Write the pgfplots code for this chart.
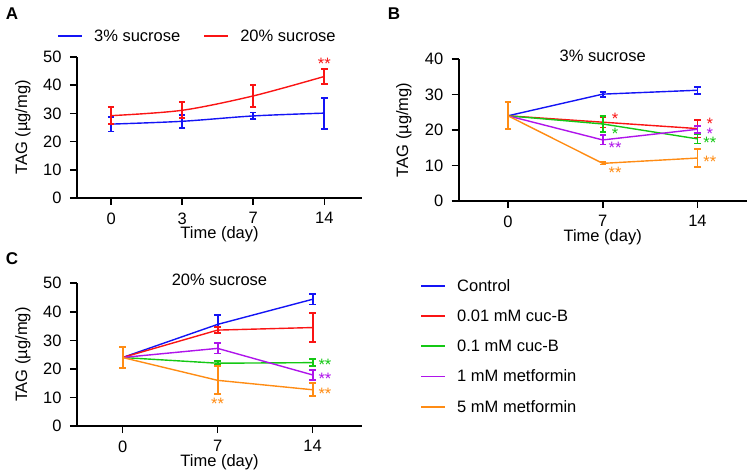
\documentclass[border=0pt]{standalone}
\usepackage{pgfplots}
\pgfplotsset{compat=1.18}
\usepackage{fontspec}
\setmainfont{Liberation Sans}
\definecolor{cblue}{RGB}{20,20,245}
\definecolor{cred}{RGB}{250,20,20}
\definecolor{cgreen}{RGB}{20,200,20}
\definecolor{cpurple}{RGB}{175,20,235}
\definecolor{corange}{RGB}{255,140,20}
\newcommand{\fs}{\fontsize{16.5bp}{19bp}\selectfont}
\tikzset{sig/.style={font=\fs, inner sep=0pt, anchor=center, yshift=-3.5bp}}
\pgfplotsset{
  base/.style={
    scale only axis,
    axis x line*=bottom, axis y line*=left,
    x axis line style={-, line width=1.6bp},
    y axis line style={-, line width=1.6bp},
    tick style={line width=1.6bp, black},
    tick align=outside,
    major tick length=7bp,
    font=\fs,
    /pgf/number format/assume math mode=true,
    xticklabel style={yshift=-4bp},
    yticklabel style={xshift=-5bp},
    ymin=0,
    xlabel={Time (day)}, ylabel={TAG (µg/mg)},
    every axis x label/.style={at={(axis description cs:0.5,0)}, anchor=center, yshift=-36bp},
    legend image code/.code={\fill[draw=none] (0bp,-0.7bp) rectangle (24bp,0.7bp);},
  },
  ln/.style={line width=1.4bp, mark=none},
  eb/.style={mark=none, draw=none,
    error bars/.cd, y dir=both, y explicit,
    error bar style={line width=1.8bp, draw=#1},
    error mark options={rotate=90, mark size=3.2bp, line width=1.8bp, draw=#1}},
}
\begin{document}
\begin{tikzpicture}
\useasboundingbox (0,0) rectangle (753bp,472bp);
\node[font=\bfseries\fontsize{17bp}{20bp}\selectfont] at (12bp,458bp) {A};
\node[font=\bfseries\fontsize{17bp}{20bp}\selectfont] at (394bp,458bp) {B};
\node[font=\bfseries\fontsize{17bp}{20bp}\selectfont] at (12bp,213bp) {C};
% ---------------- Panel A
\begin{axis}[base, at={(77bp,274bp)}, anchor=south west, width=285bp, height=141bp,
  xmin=-0.48, xmax=3.53, ymax=50, xtick={0,1,2,3}, xticklabels={0,3,7,14},
  ytick={0,10,...,50},
  every axis y label/.style={at={(axis description cs:-0.19,0.5)}, rotate=90, anchor=center},
  legend columns=2,
  legend style={at={(-0.067,1.149)}, anchor=west, draw=none, fill=none, inner sep=0pt,
    /tikz/every odd column/.append style={column sep=10bp},
    /tikz/every even column/.append style={column sep=22bp}},
]
\addplot[cblue, ln, smooth, error bars/.cd, y dir=both, y explicit,
  error bar style={line width=1.8bp},
  error mark options={rotate=90, mark size=3.2bp, line width=1.8bp}]
  coordinates {(0,26.2) +- (0,2.6) (1,27.2) +- (0,2.3) (2,29.1) +- (0,1.2) (3,30.1) +- (0,5.5)};
\addlegendentry{3\% sucrose}
\addplot[cred, ln, smooth, error bars/.cd, y dir=both, y explicit,
  error bar style={line width=1.8bp},
  error mark options={rotate=90, mark size=3.2bp, line width=1.8bp}]
  coordinates {(0,29.2) +- (0,3.1) (1,31.1) +- (0,2.8) (2,36.2) +- (0,3.9) (3,43.1) +- (0,2.6)};
\addlegendentry{20\% sucrose}
\node[sig, cred] at (axis cs:3,48.9) {**};
\end{axis}
% ---------------- Panel B
\begin{axis}[base, at={(458.7bp,271bp)}, anchor=south west, width=288bp, height=142bp,
  xmin=-0.52, xmax=2.52, ymax=40, xtick={0,1,2}, xticklabels={0,7,14},
  ytick={0,10,...,40},
  every axis y label/.style={at={(axis description cs:-0.19,0.5)}, rotate=90, anchor=center},
  title={3\% sucrose},
  every axis title/.style={at={(axis description cs:0.5,1)}, anchor=center, yshift=3bp},
]
\addplot[cblue, ln] coordinates {(0,24) (1,30.1) (2,31.2)};
\addplot[forget plot, eb=cblue] coordinates {(1,30.1) +- (0,0.7) (2,31.2) +- (0,1.0)};
\addplot[cred, ln] coordinates {(0,24) (1,22.2) (2,20.4)};
\addplot[forget plot, eb=cred] coordinates {(1,22.2) +- (0,1.5) (2,20.4) +- (0,2.5)};
\addplot[cgreen, ln] coordinates {(0,24) (1,21.7) (2,17.5)};
\addplot[forget plot, eb=cgreen] coordinates {(1,21.7) +- (0,2.2) (2,17.5) +- (0,1.3)};
\addplot[cpurple, ln] coordinates {(0,24) (1,17.2) (2,20.2)};
\addplot[forget plot, eb=cpurple] coordinates {(1,17.2) +- (0,1.3) (2,20.2) +- (0,1.0)};
\addplot[corange, ln] coordinates {(0,24) (1,10.6) (2,12.1)};
\addplot[forget plot, eb=corange] coordinates {(0,24) +- (0,3.8) (1,10.6) +- (0,0.3) (2,12.1) +- (0,2.5)};
\node[sig, cred] at (axis cs:1.13,24.2) {*};
\node[sig, cgreen] at (axis cs:1.13,19.8) {*};
\node[sig, cpurple] at (axis cs:1.13,16.1) {**};
\node[sig, corange] at (axis cs:1.13,8.9) {**};
\node[sig, cred] at (axis cs:2.13,22.7) {*};
\node[sig, cpurple] at (axis cs:2.13,20.0) {*};
\node[sig, cgreen] at (axis cs:2.13,17.3) {**};
\node[sig, corange] at (axis cs:2.13,12.1) {**};
\end{axis}
% ---------------- Panel C
\begin{axis}[base, at={(77bp,46bp)}, anchor=south west, width=285bp, height=142.7bp,
  xmin=-0.48, xmax=2.52, ymax=50, xtick={0,1,2}, xticklabels={0,7,14},
  ytick={0,10,...,50},
  every axis y label/.style={at={(axis description cs:-0.19,0.5)}, rotate=90, anchor=center},
  title={20\% sucrose},
  every axis title/.style={at={(axis description cs:0.5,1)}, anchor=center, yshift=3bp},
  legend style={at={(1.207,1.044)}, anchor=north west, draw=none, fill=none, inner sep=0pt,
    row sep=13bp, cells={anchor=west},
    /tikz/every odd column/.append style={column sep=10bp}},
]
\addplot[cblue, ln] coordinates {(0,24) (1,35.6) (2,44.4)};
\addlegendentry{Control}
\addplot[forget plot, eb=cblue] coordinates {(1,35.6) +- (0,3.2) (2,44.4) +- (0,1.8)};
\addplot[cred, ln] coordinates {(0,24) (1,33.6) (2,34.5)};
\addlegendentry{0.01 mM cuc-B}
\addplot[forget plot, eb=cred] coordinates {(1,33.6) +- (0,1.1) (2,34.5) +- (0,5.0)};
\addplot[cgreen, ln] coordinates {(0,24) (1,22.0) (2,22.2)};
\addlegendentry{0.1 mM cuc-B}
\addplot[forget plot, eb=cgreen] coordinates {(1,22.0) +- (0,0.7) (2,22.2) +- (0,1.3)};
\addplot[cpurple, ln] coordinates {(0,24) (1,27.2) (2,17.9)};
\addlegendentry{1 mM metformin}
\addplot[forget plot, eb=cpurple] coordinates {(1,27.2) +- (0,1.8) (2,17.9) +- (0,1.7)};
\addplot[corange, ln] coordinates {(0,24) (1,16.0) (2,12.7)};
\addlegendentry{5 mM metformin}
\addplot[forget plot, eb=corange] coordinates {(0,24) +- (0,3.8) (1,16.0) +- (0,4.9) (2,12.7) +- (0,2.3)};
\node[sig, corange] at (axis cs:1.0,9.1) {**};
\node[sig, cgreen] at (axis cs:2.13,22.5) {**};
\node[sig, cpurple] at (axis cs:2.13,17.8) {**};
\node[sig, corange] at (axis cs:2.13,12.6) {**};
\end{axis}
\end{tikzpicture}
\end{document}
